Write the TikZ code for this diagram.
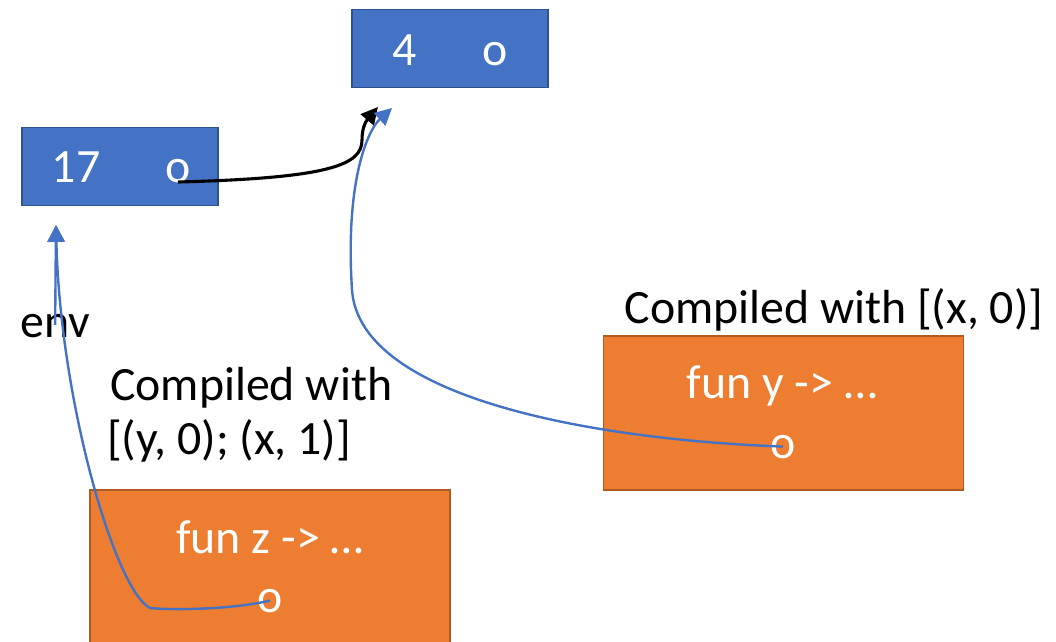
\documentclass[tikz,border=0pt]{standalone}
\usepackage{fontspec}
\setmainfont{Carlito}
\usetikzlibrary{positioning,arrows.meta}

\definecolor{cellblue}{HTML}{4472C4}
\definecolor{cellrim}{HTML}{2F528F}
\definecolor{closorange}{HTML}{ED7D31}
\definecolor{closrim}{HTML}{AE5A21}

\begin{document}
\begin{tikzpicture}[x=0.025cm,y=-0.025cm,
    font=\fontsize{34}{40}\selectfont,
    cell/.style={draw=cellrim,line width=1.2pt,fill=cellblue,minimum width=4.9cm,minimum height=1.95cm},
    clos/.style={draw=closrim,line width=1.2pt,fill=closorange,minimum width=9cm,minimum height=3.85cm},
    txt/.style={anchor=base,inner sep=0pt},
    wtxt/.style={txt,text=white},
    ptr/.style={line width=1.7pt,-{Triangle[length=12pt,width=12pt]}}]
    \useasboundingbox (0,0) rectangle (1056,641);

    % the two heap cells
    \node[cell] (c4) at (450,48.5) {};
    \node[wtxt] (n4) at (405,65) {4};
    \node[wtxt] (p4) at (495,65) {o};
    \node[cell] (c17) at (120,166.5) {};
    \node[wtxt] (n17) at (76,182) {17};
    \node[wtxt] (p17) at (178,182) {o};

    % closures
    \node[clos] (fy) at (783.5,413) {};
    \node[wtxt] (ly) at (782,398) {fun y -> …};
    \node[wtxt] (py) at (783,458) {o};
    \node[clos] (fz) at (270,567) {};
    \node[wtxt] (lz) at (270,553) {fun z -> …};
    \node[wtxt] (pz) at (270,612) {o};

    % captions
    \node[txt] (cy) at (834,323) {Compiled with [(x, 0)]};
    \node[txt,anchor=base west] (cz1) at (110,400) {Compiled with};
    \node[txt,anchor=base west] (cz2) at (107,454) {[(y, 0); (x, 1)]};
    \node[anchor=base west,inner sep=0pt] (env) at (20,337) {env};

    % arrow tips
    \coordinate (t4a) at (378,107);
    \coordinate (t4b) at (392,108);
    \coordinate (t17) at (56,225);

    \draw[ptr,black,line width=2.2pt] (p17.base) .. controls (330,178) and (362,165) .. (362,140)
        .. controls (362,126) and (367,120) .. (t4a);
    \draw[ptr,cellblue] (py.center) .. controls (600,440) and (360,400) .. (352,290)
        .. controls (345,180) and (368,130) .. (t4b);
    \draw[ptr,cellblue] (pz.center) .. controls (230,610) and (170,610) .. (150,608)
        .. controls (115,590) and (60,400) .. (t17);
    \draw[ptr,cellblue] ([yshift=-8pt]env.north) -- (t17);
\end{tikzpicture}
\end{document}
